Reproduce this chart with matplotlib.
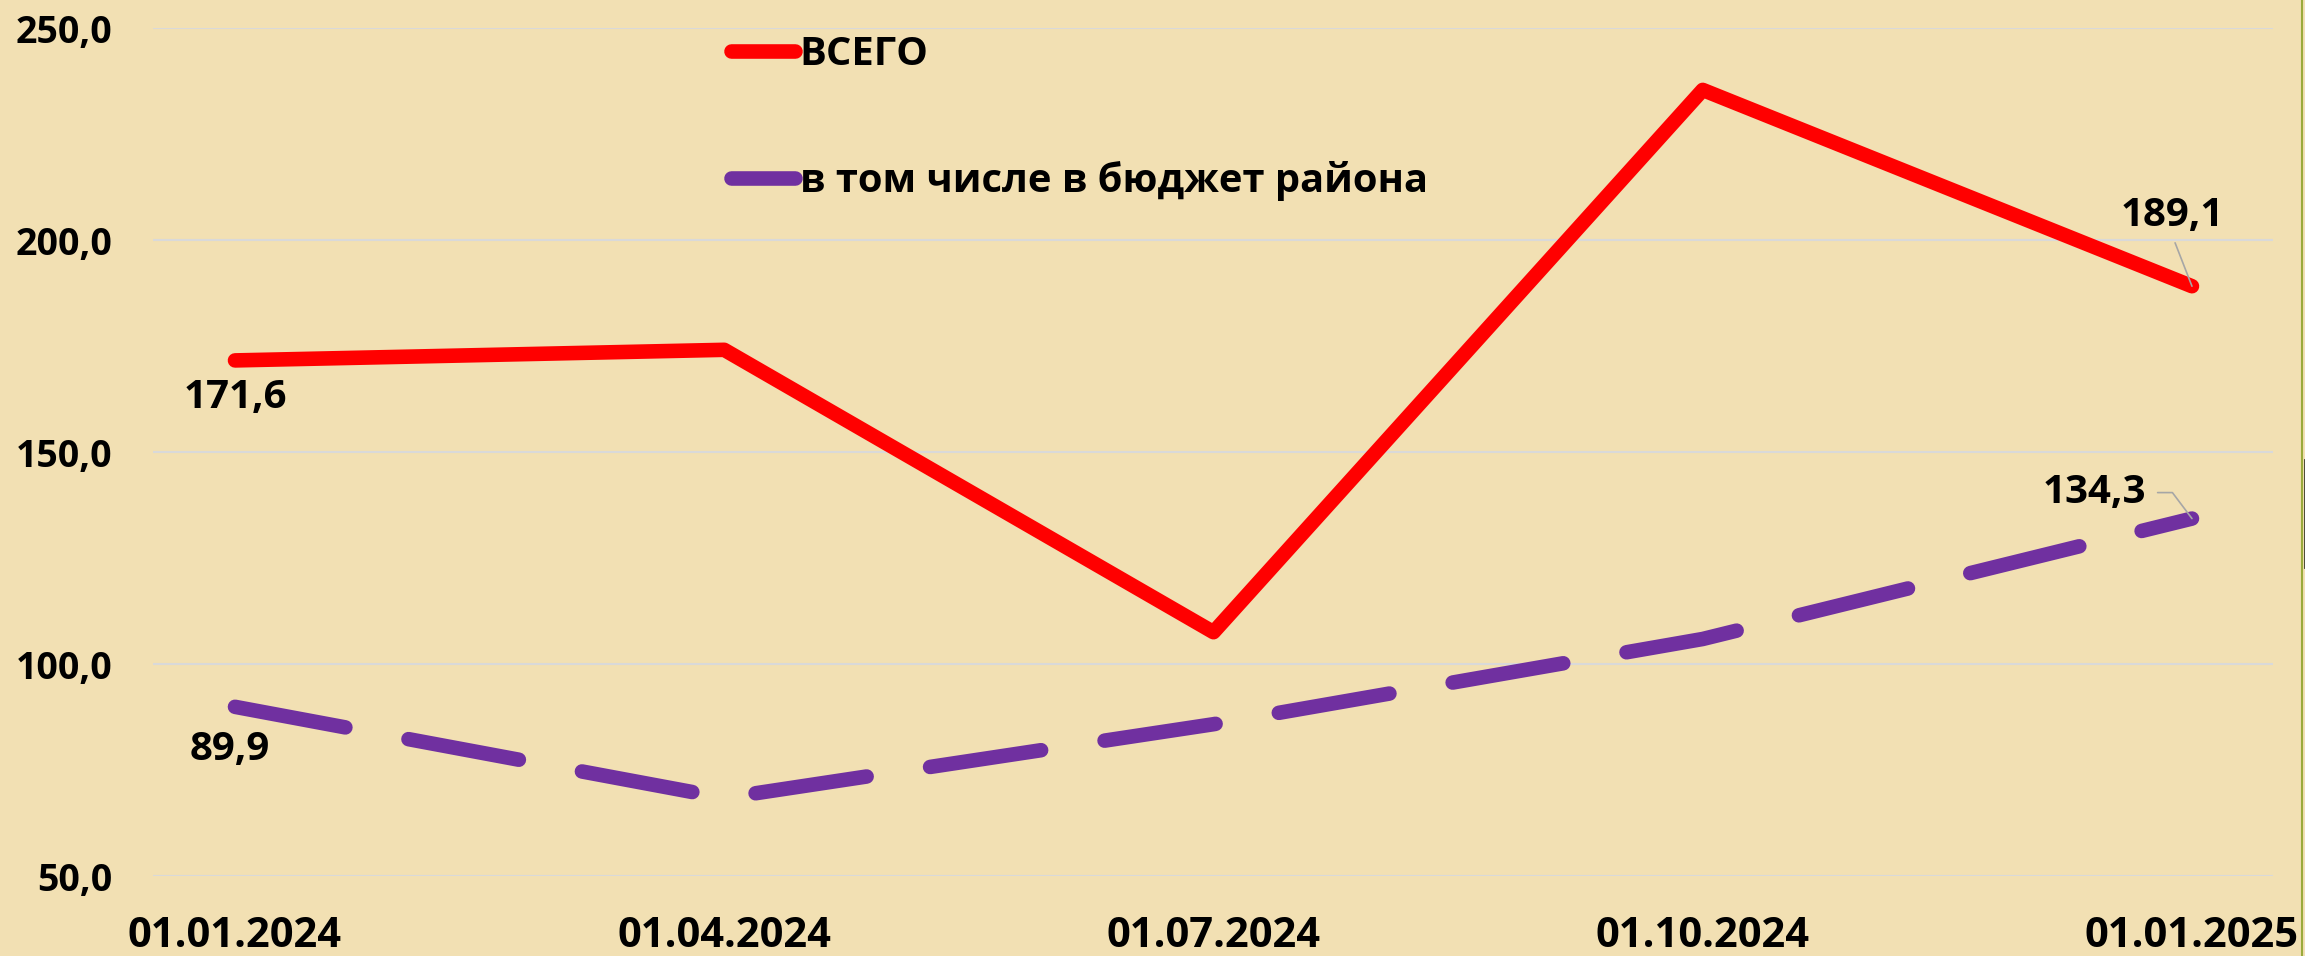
import matplotlib
matplotlib.use("Agg")
import matplotlib.pyplot as plt
from matplotlib.lines import Line2D
from matplotlib.ticker import FuncFormatter

# data
dates = ["01.01.2024", "01.04.2024", "01.07.2024", "01.10.2024", "01.01.2025"]
total = [171.6, 174.1, 107.5, 235.4, 189.1]
district = [89.9, 68.4, 85.8, 105.9, 134.3]
total_label = "ВСЕГО"
district_label = "в том числе в бюджет района"

BG = "#F2E0B3"
W, H = 2305, 956

plt.rcParams["font.family"] = ["Open Sans", "DejaVu Sans"]
plt.rcParams["font.weight"] = "bold"

fig = plt.figure(figsize=(W / 100, H / 100), dpi=100, facecolor=BG)
ax = fig.add_axes([153 / W, 80 / H, (2273 - 153) / W, (876 - 28) / H])
ax.set_facecolor(BG)

x = list(range(len(dates)))
ax.plot(x, total, color="#FF0000", lw=10.5, solid_capstyle="round",
        solid_joinstyle="round", label=total_label, zorder=3)
ax.plot(x, district, color="#7030A0", lw=10.5, linestyle=(0, (7.7, 4.4)),
        dash_capstyle="round", dash_joinstyle="round", label=district_label, zorder=3)

ax.set_xlim(-0.1676, 4.1656)
ax.set_ylim(50, 250)
ax.set_yticks([50, 100, 150, 200, 250])
ax.yaxis.set_major_formatter(FuncFormatter(lambda v, p: f"{v:.1f}".replace(".", ",")))
ax.set_xticks(x)
ax.set_xticklabels(dates)
ax.tick_params(axis="y", length=0, pad=29, labelsize=27)
ax.tick_params(axis="x", length=0, pad=28.5, labelsize=30)
for lab in ax.get_xticklabels() + ax.get_yticklabels():
    lab.set_fontweight("bold")
ax.grid(axis="y", color="#D9D9D9", lw=1.5, zorder=0)
for s in ax.spines.values():
    s.set_visible(False)

# data labels
lab_kw = dict(textcoords="offset points", ha="center", va="center",
              fontsize=29, fontweight="bold", color="black", zorder=4)
ax.annotate("171,6", (0, total[0]), xytext=(0, -27), **lab_kw)
ax.annotate("89,9", (0, district[0]), xytext=(-3.6, -31), **lab_kw)
ax.annotate("189,1", (4, total[4]), xytext=(-14.4, 51),
            arrowprops=dict(arrowstyle="-", color="#A6A6A6", lw=1.2,
                            shrinkA=4, shrinkB=0, relpos=(0.5, 0)), **lab_kw)
ax.annotate("134,3", (4, district[4]), xytext=(-70, 18.7),
            arrowprops=dict(arrowstyle="-", color="#A6A6A6", lw=1.2,
                            shrinkA=6, shrinkB=0, relpos=(1, 0.5),
                            connectionstyle="angle,angleA=0,angleB=127,rad=0"), **lab_kw)

leg = ax.legend(loc="upper left", bbox_to_anchor=(731 / W, 1 - 35 / H),
                bbox_transform=fig.transFigure, frameon=False, borderpad=0,
                borderaxespad=0, handlelength=1.6, handletextpad=0.12,
                labelspacing=2.18,
                prop=dict(family=["Open Sans", "DejaVu Sans"], weight="bold", size=28.7))

# right border of the chart area
fig.add_artist(Line2D([2302 / W, 2302 / W], [0, 1], transform=fig.transFigure,
                      color="#9AAA3C", lw=1.5))
fig.add_artist(Line2D([2304.5 / W, 2304.5 / W], [1 - 567 / H, 1 - 460 / H],
                      transform=fig.transFigure, color="#3C3C2C", lw=2))

fig.savefig("out.png", dpi=100, facecolor=BG)
